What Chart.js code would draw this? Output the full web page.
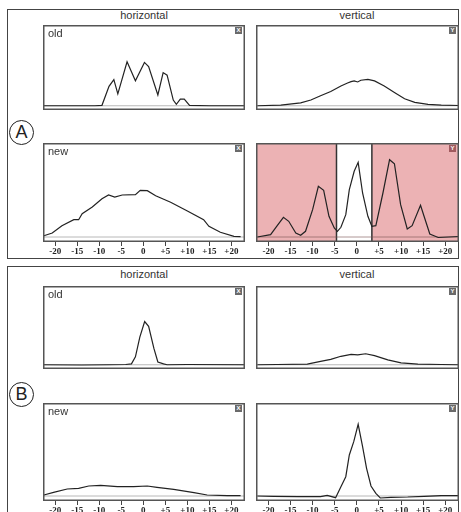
<!DOCTYPE html>
<html>
<head>
<meta charset="utf-8">
<script src="https://cdn.jsdelivr.net/npm/chart.js@4/dist/chart.umd.min.js"></script>
<style>
  body { margin: 0; background: #fff; width: 461px; height: 512px; overflow: hidden; position: relative; font-family: "Liberation Sans", Arial, sans-serif; }
  .panel { position: absolute; left: 7px; width: 450px; border: 1.5px solid #444; }
  .title { position: absolute; width: 202px; text-align: center; font-size: 11px; color: #333; }
  .box { position: absolute; }
  .tag { position: absolute; left: 5px; top: 2px; font-size: 11px; color: #333; }
  .icon { position: absolute; width: 7px; height: 7px; background: #6a6a6a; color: #fff; font-size: 6px; line-height: 7px; text-align: center; font-weight: bold; }
  .circle { position: absolute; width: 23px; height: 23px; border: 1.5px solid #222; border-radius: 50%; text-align: center; font-size: 18px; line-height: 23px; color: #222; }
</style>
</head>
<body>
<div class="panel" style="top:9px;height:248px"></div>
<div class="panel" style="top:266px;height:260px"></div>

<div class="title" style="left:43px;top:9px">horizontal</div>
<div class="title" style="left:256px;top:9px">vertical</div>
<div class="title" style="left:43px;top:268px">horizontal</div>
<div class="title" style="left:256px;top:268px">vertical</div>

<div class="circle" style="left:9px;top:120px">A</div>
<div class="circle" style="left:9px;top:382px">B</div>

<div class="box" id="w1" style="left:43px;top:25px;width:202px;height:100px"><canvas id="c1"></canvas></div>
<div class="box" id="w2" style="left:256px;top:25px;width:203px;height:100px"><canvas id="c2"></canvas></div>
<div class="box" id="w3" style="left:43px;top:143px;width:202px;height:114px"><canvas id="c3"></canvas></div>
<div class="box" id="w4" style="left:256px;top:143px;width:203px;height:114px"><canvas id="c4"></canvas></div>
<div class="box" id="w5" style="left:43px;top:286px;width:202px;height:98px"><canvas id="c5"></canvas></div>
<div class="box" id="w6" style="left:256px;top:286px;width:203px;height:98px"><canvas id="c6"></canvas></div>
<div class="box" id="w7" style="left:43px;top:403px;width:202px;height:113px"><canvas id="c7"></canvas></div>
<div class="box" id="w8" style="left:256px;top:403px;width:203px;height:113px"><canvas id="c8"></canvas></div>

<script>
// Graduations de l'axe
let xTicks = [-20, -15, -10, -5, 0, 5, 10, 15, 20];
let tickLabels = ['-20', '-15', '-10', '-5', '0', '+5', '+10', '+15', '+20'];

// A - horizontal - old
let aOldHX = [-22.8, -15, -11, -9.4, -7.8, -6.7, -5.8, -3.7, -1.8, 0.25, 1.2, 3.3, 4.5, 5.4, 6.8, 7.5, 8.4, 9.3, 10.5, 15, 23.1];
let aOldHY = [0, 0, 0, 0.5, 22.8, 30.7, 14, 51.7, 29.3, 51, 46, 12.7, 39, 36, 6.7, 1.7, 7.7, 7.7, 0.5, 0, 0];

// A - vertical - old
let aOldVX = [-22.5, -17.2, -12.7, -10.4, -8.2, -5.9, -3.6, -2.1, -1.3, -0.6, 0.2, 0.9, 2.5, 4, 6.2, 8.5, 10.8, 13.1, 16.1, 19.1, 23.1];
let aOldVY = [0, 0.7, 3.3, 6.7, 11.7, 16.7, 23.3, 26.7, 28.3, 29.3, 28, 30, 31, 29.3, 23.3, 15.7, 8.3, 4, 1.7, 0.7, 0.3];

// A - horizontal - new
let aNewHX = [-22.6, -20.7, -18.5, -15.8, -14.7, -13.9, -11.6, -9.4, -7.9, -6.5, -4.8, -1.8, -0.7, 0.9, 2.8, 6.2, 9.9, 13.7, 14.9, 17.5, 20.6, 22.1];
let aNewHY = [1.3, 4, 11.3, 17.3, 17.3, 23.3, 30, 38.3, 42, 40, 42, 42.3, 46.7, 46.3, 41.3, 34.7, 26.3, 17.3, 10.7, 4.7, 0.7, 0.3];

// A - vertical - new
let aNewVX = [-22.5, -19.5, -18, -16.6, -15.4, -13.8, -12.7, -11.6, -10, -8.7, -7.5, -6.3, -5.1, -4.4, -3.6, -2.5, -1.7, -0.6, 0.3, 1.3, 2.5, 3.4, 4.3, 5.9, 7.4, 8.5, 9.9, 11.4, 12.5, 14.4, 15.2, 16.5, 18.4, 23.1];
let aNewVY = [0, 2.3, 11.3, 19.7, 15.7, 4, 1.7, 5.7, 27.3, 50.7, 46.7, 20.7, 9, 5.7, 9.7, 22.3, 47.3, 65.7, 74.7, 44, 20.7, 10.7, 11.3, 44, 77.3, 73.3, 32.3, 8, 11.3, 31.7, 20.7, 3, -0.5, 0.5];
let shadeBounds = [-4.6, 3.4];

// B - horizontal - old
let bOldHX = [-22.8, -14, -8, -4, -2.7, -1.8, -0.8, 0.3, 1.2, 2.4, 3.3, 4.6, 5.4, 10, 23.1];
let bOldHY = [0, -0.3, 0, 0.3, 1, 9.3, 32.7, 51, 45.3, 19.3, 3.3, 1, 0, 0.3, 0];

// B - vertical - old
let bOldVX = [-22.5, -18, -11.2, -8.2, -5.9, -3.6, -1.3, 0.2, 2, 4, 7, 10, 13.8, 19.1, 23];
let bOldVY = [0, 0.3, 0.7, 4, 6.3, 10, 12.3, 11.7, 13, 10.7, 5.7, 2.3, 0.7, 0.3, 0];

// B - horizontal - new
let bNewHX = [-22.6, -20.4, -17.3, -14.7, -12.4, -9.7, -5.9, -2.2, 0.9, 3.1, 6.9, 11.5, 14.5, 19.1, 22.1];
let bNewHY = [1, 3.7, 7, 7.7, 10, 10.7, 9.3, 9.3, 10, 8.7, 6.7, 3.3, 1, 0.3, 0.3];

// B - vertical - new
let bNewVX = [-22.5, -18.8, -13.2, -8.2, -6.7, -4.8, -3.6, -2.5, -1.7, -0.7, 0.3, 1.3, 2.2, 3.2, 4.3, 5.3, 7.7, 11.5, 15.2, 19.1, 23];
let bNewVY = [0, -0.3, -0.7, -0.7, 0.7, -1.7, 9.3, 19.3, 41, 54.3, 71.7, 49.3, 27.7, 10, 2.7, -2, -1.3, -1, -0.3, 0.3, 0.3];

// Cadre, ligne de base et zones rouges
const framePlugin = {
    id: 'frame',
    beforeDatasetsDraw(chart, args, opts) {
        let ctx = chart.ctx;
        let a = chart.chartArea;
        let x = chart.scales.x;
        let y = chart.scales.y;
        ctx.save();
        if (opts.shade) {
            let x1 = x.getPixelForValue(opts.shade[0]);
            let x2 = x.getPixelForValue(opts.shade[1]);
            ctx.fillStyle = '#ecb2b4';
            ctx.fillRect(a.left, a.top, x1 - a.left, a.bottom - a.top);
            ctx.fillRect(x2, a.top, a.right - x2, a.bottom - a.top);
            ctx.strokeStyle = '#333';
            ctx.lineWidth = 1.5;
            ctx.beginPath();
            ctx.moveTo(x1, a.top); ctx.lineTo(x1, a.bottom);
            ctx.moveTo(x2, a.top); ctx.lineTo(x2, a.bottom);
            ctx.stroke();
        }
        let y0 = y.getPixelForValue(0);
        ctx.strokeStyle = opts.shade ? 'rgba(120,80,80,0.6)' : '#b8b8b8';
        ctx.lineWidth = 1;
        ctx.beginPath();
        ctx.moveTo(a.left, y0); ctx.lineTo(a.right, y0);
        ctx.stroke();
        ctx.restore();
    },
    afterDatasetsDraw(chart) {
        let ctx = chart.ctx;
        let a = chart.chartArea;
        ctx.save();
        ctx.strokeStyle = '#555';
        ctx.lineWidth = 1.5;
        ctx.strokeRect(a.left + 0.75, a.top + 0.75, a.right - a.left - 1.5, a.bottom - a.top - 1.5);
        ctx.restore();
    }
};

function makeChart(id, xs, ys, tag, icon, withAxis, yMax, shade) {
    let wrap = document.querySelector('#w' + id);
    let t = document.createElement('div');
    t.className = 'tag';
    t.textContent = tag;
    if (tag) wrap.appendChild(t);
    let ic = document.createElement('div');
    ic.className = 'icon';
    ic.textContent = icon;
    ic.style.right = '3px';
    ic.style.top = '2px';
    if (shade) ic.style.background = '#a05a5e';
    wrap.appendChild(ic);

    let ctx = document.querySelector('#c' + id).getContext('2d');
    return new Chart(ctx, {
        type: 'line',
        data: {
            datasets: [
                {
                    data: xs.map((v, i) => ({ x: v, y: ys[i] })),
                    borderColor: '#222',
                    backgroundColor: 'rgba(0,0,0,0)',
                    borderWidth: 1.2,
                    pointRadius: 0,
                    tension: 0,
                    fill: false
                }
            ]
        },
        plugins: [framePlugin],
        options: {
            responsive: true,
            maintainAspectRatio: false,
            animation: false,
            layout: { padding: 0 },
            plugins: {
                legend: { display: false },
                tooltip: { enabled: false },
                frame: { shade: shade }
            },
            scales: {
                x: {
                    type: 'linear',
                    display: withAxis,
                    min: -22.8,
                    max: 23.1,
                    afterBuildTicks: s => { s.ticks = xTicks.map(v => ({ value: v })); },
                    afterFit: s => { s.height = 15; },
                    ticks: {
                        autoSkip: false,
                        maxRotation: 0,
                        padding: 0,
                        color: '#222',
                        font: { family: '"Liberation Serif", "DejaVu Serif", serif', size: 9, weight: 'bold' },
                        callback: (v) => tickLabels[xTicks.indexOf(v)]
                    },
                    grid: { drawOnChartArea: false, drawTicks: true, tickLength: 4, color: '#444' },
                    border: { display: false }
                },
                y: {
                    display: false,
                    min: -5,
                    max: yMax
                }
            }
        }
    });
}

makeChart(1, aOldHX, aOldHY, 'old', 'X', false, 95);
makeChart(2, aOldVX, aOldVY, '', 'Y', false, 95);
makeChart(3, aNewHX, aNewHY, 'new', 'X', true, 94);
makeChart(4, aNewVX, aNewVY, '', 'Y', true, 94, shadeBounds);
makeChart(5, bOldHX, bOldHY, 'old', 'X', false, 93);
makeChart(6, bOldVX, bOldVY, '', 'Y', false, 93);
makeChart(7, bNewHX, bNewHY, 'new', 'X', true, 93);
makeChart(8, bNewVX, bNewVY, '', 'Y', true, 93);
</script>
</body>
</html>
